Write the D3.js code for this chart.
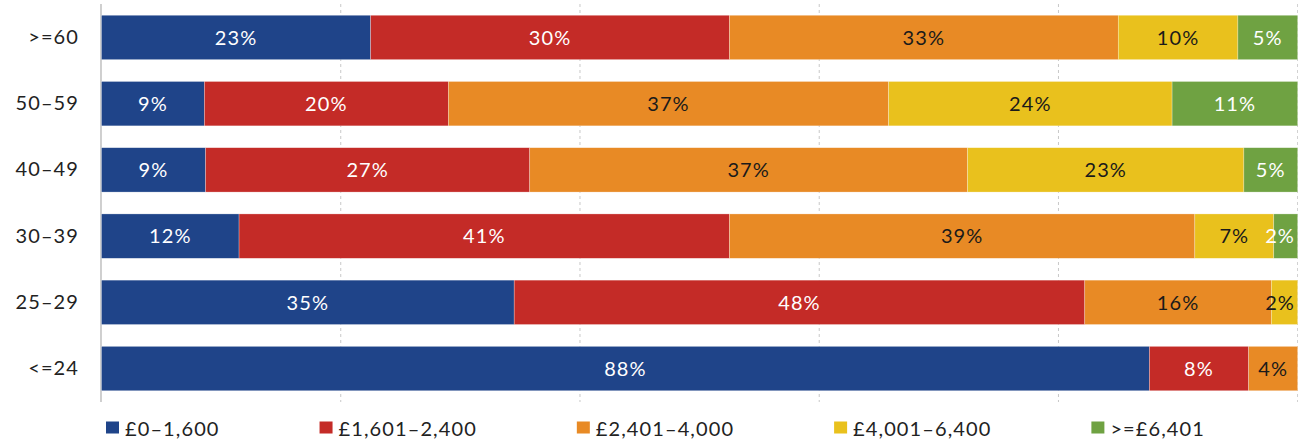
<!DOCTYPE html>
<html>
<head>
<meta charset="utf-8">
<script src="https://cdn.jsdelivr.net/npm/d3@7"></script>
<style>
  html, body { margin: 0; padding: 0; background: #fff; }
  svg { display: block; }
  text { font-family: Lato, "Open Sans", sans-serif; letter-spacing: 1.1px; }
</style>
</head>
<body>
<svg id="chart" width="1298" height="443"></svg>
<script>
const ageGroups = [">=60", "50\u201359", "40\u201349", "30\u201339", "25\u201329", "<=24"];
const bands = ["\u00a30\u20131,600", "\u00a31,601\u20132,400", "\u00a32,401\u20134,000", "\u00a34,001\u20136,400", ">=\u00a36,401"];
const band1 = [22.5, 8.6, 8.7, 11.5, 34.5, 87.6];
const band2 = [30.0, 20.4, 27.1, 41.0, 47.7, 8.3];
const band3 = [32.5, 36.8, 36.6, 38.9, 15.6, 4.1];
const band4 = [10.0, 23.7, 23.1, 6.6, 2.2, 0];
const band5 = [5.0, 10.5, 4.5, 2.0, 0, 0];
const xTicks = [20, 40, 60, 80, 100];

const colors = ["#1f4489", "#c42b27", "#e88a25", "#e9c11d", "#6fa242"];
const labelColors = ["#fff", "#fff", "#1a1a1a", "#1a1a1a", "#fff"];

const seriesValues = [band1, band2, band3, band4, band5];
const rows = ageGroups.map((g, i) => {
  const r = { group: g };
  bands.forEach((b, j) => { r[b] = seriesValues[j][i]; });
  return r;
});

const svg = d3.select("#chart");
const x = d3.scaleLinear().domain([0, 100]).range([101.5, 1297.7]);
const y = d3.scaleBand().domain(ageGroups).range([4, 402]).paddingInner(0.33).paddingOuter(0.17);

// grid lines
svg.append("g").selectAll("line").data(xTicks).join("line")
  .attr("x1", d => x(d)).attr("x2", d => x(d))
  .attr("y1", 4).attr("y2", 402)
  .attr("stroke", "#c8c8c8").attr("stroke-width", 1)
  .attr("stroke-dasharray", "3,3");

// axis line
svg.append("line")
  .attr("x1", 101).attr("x2", 101).attr("y1", 4).attr("y2", 402)
  .attr("stroke", "#b0b0b0").attr("stroke-width", 1.2);

const stack = d3.stack().keys(bands)(rows);

const layers = svg.append("g").selectAll("g").data(stack).join("g")
  .attr("fill", (d, i) => colors[i]);

layers.selectAll("rect").data(d => d.map(s => ({ s, key: d.key }))).join("rect")
  .filter(d => d.s[1] - d.s[0] > 0)
  .attr("x", d => x(d.s[0]))
  .attr("width", d => x(d.s[1]) - x(d.s[0]))
  .attr("y", d => y(d.s.data.group))
  .attr("height", y.bandwidth())
  .attr("stroke", "#ffffff").attr("stroke-opacity", 0.45).attr("stroke-width", 0.6);

// value labels
const labelG = svg.append("g");
const rightLimit = 1295;
stack.forEach((layer, i) => {
  layer.forEach(s => {
    const v = s[1] - s[0];
    if (v <= 0) return;
    const t = labelG.append("text")
      .attr("y", y(s.data.group) + y.bandwidth() / 2)
      .attr("dy", "0.36em")
      .attr("text-anchor", "middle")
      .attr("font-size", 20)
      .attr("fill", labelColors[i])
      .text(Math.round(v) + "%");
    const w = t.node().getComputedTextLength();
    let cx = (x(s[0]) + x(s[1])) / 2;
    if (cx + w / 2 > rightLimit) cx = rightLimit - w / 2;
    t.attr("x", cx);
  });
});

// y axis labels
const yAxis = d3.axisLeft(y).tickSize(0).tickPadding(0);
const yg = svg.append("g").attr("transform", "translate(79,0)").call(yAxis);
yg.select(".domain").remove();
yg.selectAll("text").attr("font-size", 20).attr("fill", "#222")
  .attr("font-family", "Lato, 'Open Sans', sans-serif");

// legend (flow layout)
const legend = svg.append("g");
let lx = 106;
bands.forEach((b, i) => {
  const g = legend.append("g").attr("transform", `translate(${lx},0)`);
  g.append("rect").attr("x", 0).attr("y", 421.5).attr("width", 13).attr("height", 12).attr("fill", colors[i]);
  const t = g.append("text").attr("x", 19).attr("y", 436).attr("font-size", 20).attr("fill", "#222").text(b);
  const w = t.node().getComputedTextLength();
  lx += 19 + w + 100;
});
</script>
</body>
</html>
